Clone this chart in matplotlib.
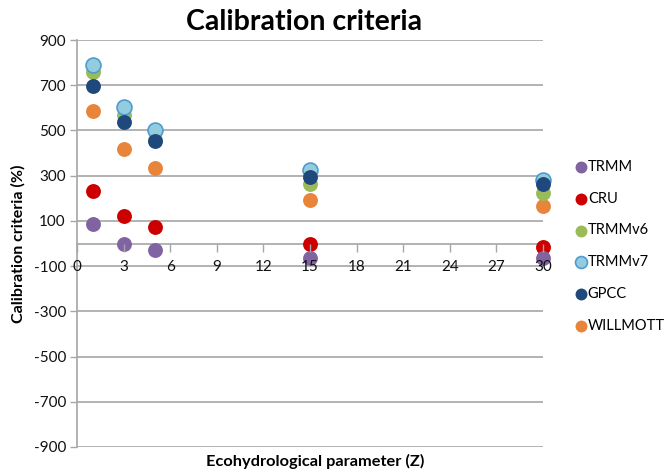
import matplotlib
matplotlib.use("Agg")
import matplotlib.pyplot as plt

plt.rcParams['font.family'] = ['Lato', 'DejaVu Sans']
plt.rcParams['axes.unicode_minus'] = False

z = [1, 3, 5, 15, 30]
series_names = ["TRMM", "CRU", "TRMMv6", "TRMMv7", "GPCC", "WILLMOTT"]
trmm = [86, 0, -29, -66, -66]
cru = [234, 123, 74, -4, -17]
trmmv6 = [760, 568, 458, 263, 225]
trmmv7 = [789, 605, 503, 324, 281]
gpcc = [697, 537, 452, 296, 262]
willmott = [586, 418, 332, 192, 166]
yticks = [-900, -700, -500, -300, -100, 100, 300, 500, 700, 900]
xticks = [0, 3, 6, 9, 12, 15, 18, 21, 24, 27, 30]

values = [trmm, cru, trmmv6, trmmv7, gpcc, willmott]
faces = ["#8064A2", "#CC0000", "#9BBB59", "#93CDDD", "#1F497D", "#E8853A"]
edges = ["#8064A2", "#CC0000", "#9BBB59", "#4F9BD0", "#1F497D", "#E8853A"]
order = [5, 2, 3, 4, 1, 0]

fig = plt.figure(figsize=(6.67, 4.71), dpi=100)
ax = fig.add_axes([77/667, 1-447/471, (543-77)/667, (447-40)/471])

handles = {}
for i in order:
    h = ax.scatter(z, values[i], s=115, c=faces[i], edgecolors=edges[i],
                   linewidths=1.2 if i == 3 else 0, zorder=3, clip_on=False,
                   label=series_names[i])
    handles[i] = h

ax.set_xlim(0, 30)
ax.set_ylim(-900, 900)
ax.set_xticks(xticks)
ax.set_yticks(yticks)
ax.grid(axis='y', color='#A6A6A6', linewidth=1.2)
ax.set_axisbelow(True)
ax.xaxis.set_zorder(4)

for s in ['top', 'right']:
    ax.spines[s].set_visible(False)
ax.spines['bottom'].set_position(('data', 0))
ax.spines['bottom'].set_color('#A6A6A6')
ax.spines['bottom'].set_linewidth(1.2)
ax.spines['bottom'].set_zorder(1)
ax.spines['left'].set_color('#A6A6A6')
ax.spines['left'].set_linewidth(1.2)
ax.tick_params(axis='x', direction='out', length=6, color='#A6A6A6', width=1,
               labelsize=11, pad=6, labelcolor='#111111')
ax.tick_params(axis='y', direction='out', length=5, color='#A6A6A6', width=1,
               labelsize=11, pad=3, labelcolor='#111111')

fig.text(304/667, 1-22/471, "Calibration criteria", ha='center', va='center',
         fontsize=20.5, fontweight='bold')
fig.text(18/667, 1-244/471, "Calibration criteria (%)", ha='center', va='center',
         rotation=90, fontsize=11.5, fontweight='bold')
fig.text(315/667, 1-461/471, "Ecohydrological parameter (Z)", ha='center', va='center',
         fontsize=11.8, fontweight='bold')

leg = fig.legend([handles[i] for i in range(6)], series_names,
                 loc='upper left', bbox_to_anchor=(566/667, 1-154/471),
                 frameon=False, fontsize=10.5, markerscale=0.8,
                 handletextpad=-0.1, labelspacing=1.22, borderaxespad=0,
                 handlelength=1.2)

fig.savefig("out.png", dpi=100)
